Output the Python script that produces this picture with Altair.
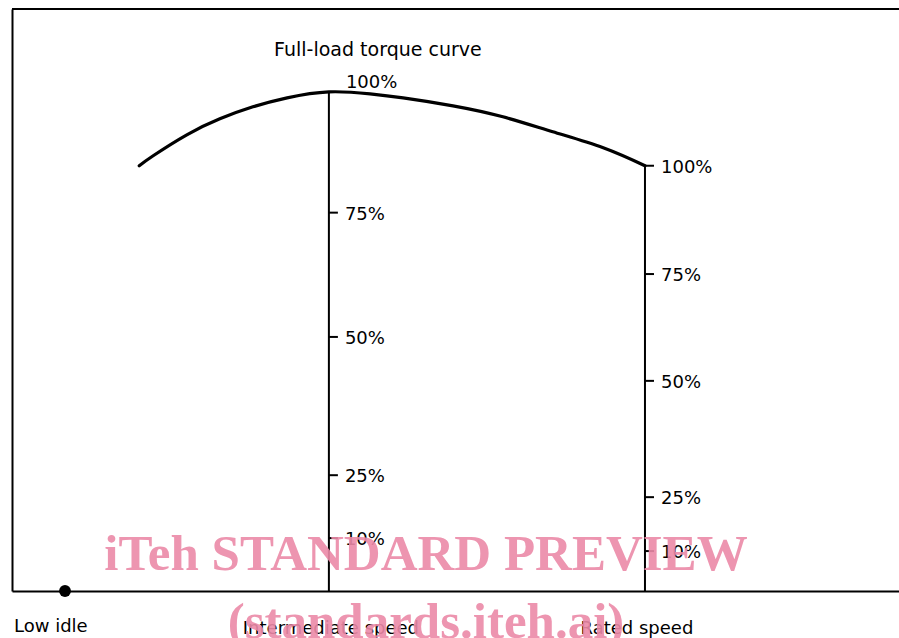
import altair as alt
import pandas as pd

# Engine speed in relative units (low idle = 0, rated speed = 100)
# Torque in % of maximum full-load torque (at intermediate speed = 100)
curve_speed = [12.8, 15.2, 21.0, 26.7, 32.4, 38.3, 45.5, 52.6, 58.3, 66.9, 75.5, 84.1, 92.8, 100.0]
curve_torque = [85.2, 87.2, 91.4, 94.6, 97.0, 98.8, 100.0, 99.6, 98.8, 97.2, 95.0, 92.0, 88.8, 85.2]

low_idle_speed = 0.0
speed_line_names = ["Intermediate speed", "Rated speed"]
speed_line_values = [45.5, 100.0]
speed_line_tops = [100.0, 85.2]

inter_tick_labels = ["75%", "50%", "25%", "10%"]
inter_tick_pos = [75.8, 50.9, 23.2, 10.6]
rated_tick_labels = ["100%", "75%", "50%", "25%", "10%"]
rated_tick_pos = [85.2, 63.5, 42.1, 18.8, 8.0]

title_text = "Full-load torque curve"
watermark = ["iTeh STANDARD PREVIEW", "(standards.iteh.ai)"]

X_MIN, X_MAX = -9.14, 143.8
Y_MIN, Y_MAX = 0.0, 116.6

FONT = "DejaVu Sans"
FS = 18

curve_df = pd.DataFrame({"speed": curve_speed, "torque": curve_torque})
lines_df = pd.DataFrame({"name": speed_line_names, "speed": speed_line_values, "top": speed_line_tops})
ticks_df = pd.DataFrame({
    "speed": [speed_line_values[0]] * len(inter_tick_pos) + [speed_line_values[1]] * len(rated_tick_pos),
    "pos": inter_tick_pos + rated_tick_pos,
    "label": inter_tick_labels + rated_tick_labels,
})
one = pd.DataFrame({"a": [0]})

xs = alt.Scale(domain=[X_MIN, X_MAX], nice=False, zero=False)
ys = alt.Scale(domain=[Y_MIN, Y_MAX], nice=False, zero=False)
ax = alt.Axis(title="", labels=False, ticks=False, grid=False, domain=True,
              domainColor="black", domainWidth=2)


def X(f):
    return alt.X(f, type="quantitative", scale=xs, axis=ax)


def Y(f):
    return alt.Y(f, type="quantitative", scale=ys, axis=ax)


curve = alt.Chart(curve_df).mark_line(
    color="black", strokeWidth=3.2, interpolate="natural", strokeCap="round"
).encode(x=X("speed"), y=Y("torque"))

top_frame = alt.Chart(one).mark_rule(color="black", strokeWidth=2).encode(
    x=alt.XDatum(X_MIN, scale=xs, axis=ax), x2=alt.X2Datum(X_MAX),
    y=alt.YDatum(Y_MAX, scale=ys, axis=ax)
)

vlines = alt.Chart(lines_df).mark_rule(color="black", strokeWidth=2).encode(
    x=X("speed"), y=Y("top"), y2=alt.Y2Datum(0)
)

ticks = alt.Chart(ticks_df).mark_rule(color="black", strokeWidth=2, x2Offset=9).encode(
    x=X("speed"), x2=alt.X2("speed"), y=Y("pos")
)

tick_labels = alt.Chart(ticks_df).mark_text(
    align="left", baseline="middle", dx=16, dy=2, font=FONT, fontSize=FS, color="black"
).encode(x=X("speed"), y=Y("pos"), text="label:N")

top_label = alt.Chart(lines_df.iloc[[0]]).mark_text(
    align="left", baseline="alphabetic", dx=17, dy=-4, font=FONT, fontSize=FS, color="black"
).encode(x=X("speed"), y=Y("top"), text=alt.value("100%"))

title = alt.Chart(lines_df.iloc[[0]]).mark_text(
    align="center", baseline="alphabetic", dx=49, dy=-36, font=FONT, fontSize=FS + 1, color="black"
).encode(x=X("speed"), y=Y("top"), text=alt.value(title_text))

dot = alt.Chart(pd.DataFrame({"speed": [low_idle_speed], "t": [0.0]})).mark_circle(
    color="black", opacity=1, size=140
).encode(x=X("speed"), y=Y("t"))

low_label = alt.Chart(pd.DataFrame({"speed": [low_idle_speed], "t": [0.0], "name": ["Low idle"]})).mark_text(
    align="left", baseline="alphabetic", dx=-51, dy=41, font=FONT, fontSize=FS, color="black"
).encode(x=X("speed"), y=Y("t"), text="name:N")

inter_label = alt.Chart(lines_df.iloc[[0]]).mark_text(
    align="center", baseline="alphabetic", dx=2, dy=43, font=FONT, fontSize=FS, color="black"
).encode(x=X("speed"), y=alt.YDatum(0, scale=ys, axis=ax), text="name:N")

rated_label = alt.Chart(lines_df.iloc[[1]]).mark_text(
    align="center", baseline="alphabetic", dx=-8, dy=43, font=FONT, fontSize=FS, color="black"
).encode(x=X("speed"), y=alt.YDatum(0, scale=ys, axis=ax), text="name:N")

wm1 = alt.Chart(one).mark_text(
    align="center", baseline="alphabetic", font="Liberation Serif", fontWeight="bold",
    fontSize=51, color="#ec8aa8", opacity=0.9
).encode(x=alt.value(414), y=alt.value(561), text=alt.value(watermark[0]))

wm2 = alt.Chart(one).mark_text(
    align="center", baseline="alphabetic", font="Liberation Serif", fontWeight="bold",
    fontSize=51, color="#ec8aa8", opacity=0.9
).encode(x=alt.value(414), y=alt.value(629), text=alt.value(watermark[1]))

chart = alt.layer(
    top_frame, vlines, ticks, curve, dot, tick_labels, top_label, title,
    low_label, inter_label, rated_label, wm1, wm2
).properties(
    width=887, height=582,
    padding={"left": 12, "top": 9, "right": 0, "bottom": 47},
    autosize="none", background="white"
).configure_view(strokeWidth=0)

chart.save("out.html", embed_options={"renderer": "svg", "actions": False})
